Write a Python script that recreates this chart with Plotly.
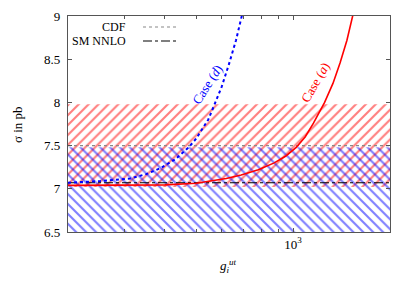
import plotly.graph_objects as go

# ---- data ----
x_range = [200, 2000]
cdf_band = [7.02, 7.98]        # red hatched band
sm_band = [6.5, 7.48]          # blue hatched band
cdf_central = 7.5
sm_nnlo = 7.07

case_d_x = [200, 252, 312, 350, 388, 430, 474, 500, 520, 545, 568, 600, 632, 665, 695, 720]
case_d_y = [7.07, 7.09, 7.12, 7.17, 7.24, 7.34, 7.48, 7.58, 7.68, 7.8, 7.96, 8.18, 8.44, 8.72, 9.02, 9.3]

case_a_x = [200, 300, 400, 500, 560, 620, 690, 780, 874, 950, 1023, 1090, 1157, 1253,
            1330, 1400, 1470, 1532, 1600]
case_a_y = [7.04, 7.041, 7.045, 7.065, 7.09, 7.12, 7.16, 7.22, 7.30, 7.38, 7.48, 7.6,
            7.76, 8.0, 8.22, 8.46, 8.72, 9.0, 9.3]

y_ticks = [6.5, 7, 7.5, 8, 8.5, 9]
y_tick_text = ["6.5", "7", "7.5", "8", "8.5", "9"]
x_major = [1000]
x_major_text = ["10<sup>3</sup>"]
x_minor = [200, 300, 400, 500, 600, 700, 800, 900, 2000]

FONT = "Liberation Serif, Times New Roman, serif"

fig = go.Figure()

# hatched bands
fig.add_trace(go.Scatter(
    x=[x_range[0], x_range[1], x_range[1], x_range[0]],
    y=[cdf_band[0], cdf_band[0], cdf_band[1], cdf_band[1]],
    fill="toself", fillcolor="rgba(0,0,0,0)", mode="lines", line=dict(width=0),
    fillpattern=dict(shape="/", fgcolor="#ff0000", bgcolor="rgba(0,0,0,0)",
                     size=7, solidity=0.3),
    hoverinfo="skip", showlegend=False))
fig.add_trace(go.Scatter(
    x=[x_range[0], x_range[1], x_range[1], x_range[0]],
    y=[sm_band[0], sm_band[0], sm_band[1], sm_band[1]],
    fill="toself", fillcolor="rgba(0,0,0,0)", mode="lines", line=dict(width=0),
    fillpattern=dict(shape="\\", fgcolor="#0000ff", bgcolor="rgba(0,0,0,0)",
                     size=7, solidity=0.3),
    hoverinfo="skip", showlegend=False))

# reference lines
fig.add_trace(go.Scatter(x=x_range, y=[cdf_central, cdf_central], mode="lines",
                         line=dict(color="#888888", width=1.2, dash="dot"),
                         showlegend=False))
fig.add_trace(go.Scatter(x=x_range, y=[sm_nnlo, sm_nnlo], mode="lines",
                         line=dict(color="#000000", width=1.2, dash="dashdot"),
                         showlegend=False))

# curves
fig.add_trace(go.Scatter(x=case_d_x, y=case_d_y, mode="lines",
                         line=dict(color="#0000ff", width=2, dash="dot"),
                         showlegend=False))
fig.add_trace(go.Scatter(x=case_a_x, y=case_a_y, mode="lines",
                         line=dict(color="#ff0000", width=1.6),
                         showlegend=False))

axis_common = dict(showline=True, linecolor="#555555", linewidth=1.2, mirror="ticks",
                   ticks="inside", ticklen=4, tickcolor="#555555", showgrid=False,
                   zeroline=False, automargin=False,
                   tickfont=dict(family=FONT, size=13, color="black"))

fig.update_xaxes(type="log", range=[2.30103, 3.30103], tickvals=x_major,
                 ticktext=x_major_text,
                 minor=dict(tickvals=x_minor, ticks="inside", ticklen=3,
                            tickcolor="#555555"),
                 **axis_common)
fig.update_yaxes(range=[6.5, 9], tickvals=y_ticks, ticktext=y_tick_text,
                 ticklabelstandoff=4, **axis_common)

# page body has an 8px margin; work in window pixel coords and shift
OFF = 8
W, H = 415 - 2 * OFF, 291 - 2 * OFF
L, T = 68 - OFF, 16 - OFF
pw, ph = 322, 216
R, B = W - L - pw, H - T - ph

annotations = [
    dict(text="σ in pb", x=17, y=125, textangle=-90, xanchor="center",
         font=dict(family=FONT, size=13, color="black")),
    dict(text="<i>g<sub>i</sub><sup>ut</sup></i>", x=228, y=266, xanchor="center",
         font=dict(family=FONT, size=13, color="black")),
    dict(text="CDF", x=128, y=27, xanchor="right",
         font=dict(family=FONT, size=12, color="black")),
    dict(text="SM NNLO", x=128, y=41, xanchor="right",
         font=dict(family=FONT, size=12, color="black")),
    dict(text="Case (<i>d</i>)", x=207, y=84, textangle=-57, xanchor="center",
         font=dict(family=FONT, size=13, color="#0000ff")),
    dict(text="Case (<i>a</i>)", x=315, y=82, textangle=-60, xanchor="center",
         font=dict(family=FONT, size=13, color="#ff0000")),
]
for a in annotations:
    px, py = a["x"] - OFF, a["y"] - OFF
    a["x"] = (px - L) / pw
    a["y"] = 1 - (py - T) / ph
    a["xref"] = "paper"
    a["yref"] = "paper"
    a["yanchor"] = "middle"
    a["showarrow"] = False

def pshape(x0, x1, y, color, dash):
    x0, x1, y = x0 - OFF, x1 - OFF, y - OFF
    return dict(type="line", xref="paper", yref="paper",
                x0=(x0 - L) / pw, x1=(x1 - L) / pw,
                y0=1 - (y - T) / ph, y1=1 - (y - T) / ph,
                line=dict(color=color, width=1.2, dash=dash))

shapes = [pshape(143, 179, 27, "#888888", "dot"),
          pshape(143, 179, 41, "#000000", "dashdot")]

fig.update_layout(width=W, height=H, margin=dict(l=L, r=R, t=T, b=B),
                  paper_bgcolor="white", plot_bgcolor="white",
                  annotations=annotations, shapes=shapes, showlegend=False)

fig.write_html("out.html")
